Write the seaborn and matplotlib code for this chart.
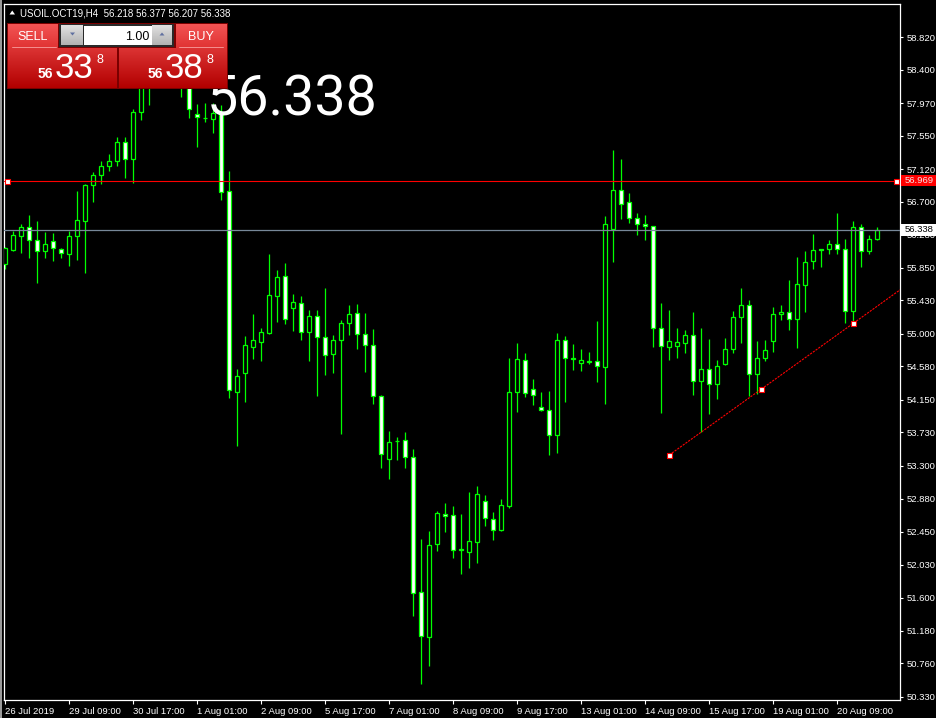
import numpy as np
import matplotlib
matplotlib.use("Agg")
import matplotlib.pyplot as plt
import matplotlib.transforms as mtransforms
from matplotlib.patches import Rectangle, Polygon
import seaborn as sns

sns.set_theme(style="dark", rc={
    "figure.facecolor": "black",
    "axes.facecolor": "black",
    "axes.edgecolor": "white",
    "savefig.facecolor": "black",
})
plt.rcParams["font.family"] = ["Liberation Sans", "DejaVu Sans"]

# ---------------------------------------------------------------------------
# USOIL.OCT19 H4 candles
# ---------------------------------------------------------------------------
opens = [55.894, 56.074, 56.262, 56.371, 56.203, 56.069, 56.190, 56.087, 56.023, 56.255,
         56.448, 56.911, 57.040, 57.156, 57.228, 57.465, 57.246, 57.851, 58.270, 58.520,
         58.380, 58.470, 58.300, 58.380, 57.825, 57.781, 57.761, 57.850, 56.834, 54.255,
         54.499, 54.834, 54.898, 55.014, 55.490, 55.740, 55.336, 55.393, 55.019, 55.225,
         54.955, 54.736, 54.916, 55.135, 55.264, 54.994, 54.852, 54.196, 53.385, 53.625,
         53.629, 53.410, 51.673, 51.094, 52.299, 52.677, 52.664, 52.220, 52.196, 52.324,
         52.844, 52.612, 52.479, 52.788, 54.255, 54.659, 54.286, 54.054, 54.015, 53.694,
         54.916, 54.690, 54.620, 54.640, 54.646, 54.569, 56.345, 56.847, 56.692, 56.487,
         56.409, 56.384, 55.071, 54.826, 54.839, 54.878, 54.981, 54.389, 54.543, 54.350,
         54.608, 54.800, 55.212, 55.367, 54.479, 54.685, 54.903, 55.251, 55.277, 55.187,
         55.624, 55.933, 56.087, 56.087, 56.152, 56.087, 55.290, 56.371, 56.062, 56.218]
highs = [56.113, 56.323, 56.413, 56.529, 56.452, 56.310, 56.297, 56.100, 56.323, 56.838,
         56.924, 57.079, 57.220, 57.310, 57.530, 57.530, 57.889, 58.420, 58.650, 58.760,
         58.620, 58.580, 58.520, 58.480, 57.958, 57.970, 57.966, 57.950, 57.095, 54.547,
         54.972, 55.255, 55.071, 56.027, 55.821, 55.911, 55.512, 55.487, 55.306, 55.306,
         55.590, 54.981, 55.174, 55.371, 55.384, 55.264, 55.058, 54.209, 53.745, 53.672,
         53.732, 53.513, 52.355, 52.462, 52.720, 52.823, 52.784, 52.681, 52.964, 53.041,
         52.922, 52.707, 52.874, 54.689, 54.882, 54.749, 54.418, 54.251, 54.264, 55.010,
         54.968, 54.869, 54.804, 54.766, 55.165, 56.512, 57.365, 57.250, 56.808, 56.551,
         56.525, 56.390, 55.393, 55.302, 55.071, 55.045, 55.277, 55.071, 54.929, 54.659,
         54.942, 55.290, 55.586, 55.431, 54.908, 54.920, 55.345, 55.367, 55.692, 55.985,
         56.062, 56.284, 56.090, 56.203, 56.555, 56.216, 56.448, 56.413, 56.268, 56.377]
lows = [55.830, 56.060, 56.044, 55.979, 55.658, 55.979, 55.941, 55.979, 55.876, 55.954,
        55.786, 56.700, 56.928, 57.099, 57.164, 57.009, 56.945, 57.752, 57.945, 58.200,
        58.200, 58.180, 58.051, 57.781, 57.408, 57.730, 57.588, 56.722, 54.177, 53.560,
        54.126, 54.676, 54.654, 55.000, 55.156, 55.130, 55.040, 54.924, 54.654, 54.203,
        54.474, 54.499, 53.714, 54.981, 54.808, 54.512, 54.093, 53.277, 53.135, 53.380,
        53.277, 51.372, 50.497, 50.729, 52.208, 52.453, 52.118, 51.912, 51.990, 52.054,
        52.530, 52.350, 52.466, 52.762, 54.000, 54.190, 54.088, 54.010, 53.436, 53.470,
        54.126, 54.538, 54.525, 54.611, 54.383, 54.100, 55.928, 56.474, 56.422, 56.268,
        56.203, 54.826, 53.977, 54.659, 54.685, 54.749, 54.209, 53.732, 53.964, 54.157,
        54.595, 54.749, 54.878, 54.196, 54.222, 54.650, 54.762, 55.182, 55.045, 54.813,
        55.277, 55.830, 55.856, 56.023, 56.023, 55.143, 55.161, 55.863, 56.023, 56.207]
closes = [56.100, 56.267, 56.371, 56.203, 56.069, 56.152, 56.100, 56.036, 56.255, 56.461,
          56.911, 57.040, 57.156, 57.220, 57.465, 57.246, 57.851, 58.270, 58.520, 58.380,
          58.470, 58.300, 58.380, 57.889, 57.786, 57.778, 57.846, 56.829, 54.273, 54.453,
          54.852, 54.916, 55.019, 55.496, 55.727, 55.194, 55.405, 55.019, 55.225, 54.955,
          54.723, 54.916, 55.135, 55.251, 54.994, 54.852, 54.196, 53.449, 53.603, 53.620,
          53.410, 51.660, 51.107, 52.278, 52.690, 52.651, 52.214, 52.230, 52.330, 52.934,
          52.625, 52.479, 52.793, 54.247, 54.672, 54.234, 54.209, 54.015, 53.694, 54.916,
          54.685, 54.680, 54.659, 54.650, 54.582, 56.409, 56.847, 56.667, 56.487, 56.409,
          56.384, 55.071, 54.839, 54.903, 54.890, 54.981, 54.389, 54.543, 54.350, 54.582,
          54.800, 55.212, 55.367, 54.479, 54.685, 54.788, 55.251, 55.277, 55.187, 55.637,
          55.920, 56.074, 56.080, 56.152, 56.087, 55.290, 56.371, 56.062, 56.216, 56.338]

date_labels = ["26 Jul 2019", "29 Jul 09:00", "30 Jul 17:00", "1 Aug 01:00", "2 Aug 09:00",
               "5 Aug 17:00", "7 Aug 01:00", "8 Aug 09:00", "9 Aug 17:00", "13 Aug 01:00",
               "14 Aug 09:00", "15 Aug 17:00", "19 Aug 01:00", "20 Aug 09:00"]
price_ticks = [58.82, 58.40, 57.97, 57.55, 57.12, 56.70, 56.28, 55.85, 55.43, 55.00, 54.58,
               54.15, 53.73, 53.30, 52.88, 52.45, 52.03, 51.60, 51.18, 50.76, 50.33]

hline_price = 56.969
bid_price = 56.338
trend_start = (83, 53.44)
trend_end = (106, 55.135)

GREEN = "#00ff00"
W, H = 937, 718

fig = plt.figure(figsize=(W / 100, H / 100), dpi=100)
ax = fig.add_axes([4 / W, 18 / H, 896 / W, 696 / H])
ax.set_facecolor("black")

x = np.arange(len(opens))
o = np.array(opens); c = np.array(closes)
bull = c > o
body_bottom = np.minimum(o, c)
body_height = np.maximum(np.abs(c - o), 0.003)
fills = np.where(bull, "black", "white")

ax.vlines(x, lows, highs, color=GREEN, lw=0.9, zorder=2)
ax.bar(x, body_height, bottom=body_bottom, width=0.5, color=fills,
       edgecolor=GREEN, linewidth=0.9, zorder=3)

xmin, xmax = -0.125, 111.84
ax.set_xlim(xmin, xmax)
ax.set_ylim(50.287, 59.245)

# horizontal line + bid line
ax.axhline(hline_price, color="#ff0000", lw=0.8, zorder=4)
ax.plot([0.25, 111.3], [hline_price, hline_price], ls="none", marker="s", ms=3.6,
        mfc="white", mec="#ff0000", mew=0.8, zorder=5)
ax.axhline(bid_price, color="#778899", lw=0.9, zorder=4)

# trend line (ray to the right)
slope = (trend_end[1] - trend_start[1]) / (trend_end[0] - trend_start[0])
tx = np.array([trend_start[0], xmax])
ty = trend_start[1] + slope * (tx - trend_start[0])
ax.plot(tx, ty, color="#ff0000", lw=0.8, ls=(0, (2, 1)), zorder=4)
mid_x = (trend_start[0] + trend_end[0]) / 2
ax.plot([trend_start[0], mid_x, trend_end[0]],
        [trend_start[1], trend_start[1] + slope * (mid_x - trend_start[0]), trend_end[1]],
        ls="none", marker="s", ms=3.6, mfc="white", mec="#ff0000", mew=0.8, zorder=5)

# axes styling
for sp in ax.spines.values():
    sp.set_color("white")
    sp.set_linewidth(0.9)
ax.grid(False)
ax.yaxis.tick_right()
ax.set_yticks(price_ticks)
ax.set_yticklabels([f"{p:.3f}" for p in price_ticks])
ax.set_xticks(np.arange(0, 8 * len(date_labels), 8))
ax.set_xticklabels(date_labels, ha="left")
ax.tick_params(axis="y", colors="white", labelcolor="white", length=2.5, width=0.8,
               labelsize=6.8, pad=2, left=False, right=True)
ax.tick_params(axis="x", colors="white", labelcolor="white", length=3, width=0.8,
               labelsize=6.8, pad=2, bottom=True)

# price boxes on the right axis
trans = mtransforms.blended_transform_factory(fig.transFigure, ax.transData)
fig.add_artist(Rectangle((901 / W, hline_price - 0.072), 36 / W, 0.144, transform=trans,
                         facecolor="#ff0000", edgecolor="none", zorder=10))
fig.text(905 / W, hline_price, f"{hline_price:.3f}", transform=trans, color="#f4e6e6",
         fontsize=6.8, va="center", ha="left", zorder=11)
fig.add_artist(Rectangle((901 / W, bid_price - 0.078), 36 / W, 0.156, transform=trans,
                         facecolor="white", edgecolor="none", zorder=10))
fig.text(905 / W, bid_price, f"{bid_price:.3f}", transform=trans, color="black",
         fontsize=6.8, va="center", ha="left", zorder=11)

# ---------------------------------------------------------------------------
# overlay: header, big price, one-click trading panel (pixel coordinates)
# ---------------------------------------------------------------------------
ov = fig.add_axes([0, 0, 1, 1], zorder=5)
ov.patch.set_alpha(0)
ov.axis("off")


def grad_box(x0, y0, x1, y1, top, bottom):
    g = np.linspace(0, 1, 40)[:, None, None]
    img = (1 - g) * np.array(top)[None, None, :] + g * np.array(bottom)[None, None, :]
    ov.imshow(img, extent=(x0, x1, y1, y0), origin="upper", aspect="auto",
              interpolation="bilinear", zorder=2)


ov.add_patch(Rectangle((0, 0), 2.5, H, facecolor="#9a9a9a", edgecolor="none"))

# big last price (partly hidden by the panel)
ov.text(207, 115.5, f"{bid_price:.3f}", color="white", fontsize=40, ha="left",
        va="baseline", zorder=1, family=["Roboto", "Liberation Sans"])

# header
ov.add_patch(Polygon([[9.5, 14.5], [15, 14.5], [12.25, 10.5]], closed=True,
                     facecolor="white", edgecolor="none"))
ov.text(20, 16.5, "USOIL.OCT19,H4  56.218 56.377 56.207 56.338", color="white",
        fontsize=7, ha="left", va="baseline")

# panel backing
ov.add_patch(Rectangle((7, 23), 221, 66, facecolor="#7a0000", edgecolor="none", zorder=1.5))
# SELL / BUY buttons
grad_box(8, 24, 57.5, 48, (0.95, 0.33, 0.33), (0.88, 0.20, 0.20))
grad_box(176, 24, 227, 48, (0.95, 0.33, 0.33), (0.88, 0.20, 0.20))
ov.plot([12, 56], [46.7, 46.7], color="#f59090", lw=0.7, zorder=3)
ov.plot([179, 223], [46.7, 46.7], color="#f59090", lw=0.7, zorder=3)
# lot box
ov.add_patch(Rectangle((59, 23.5), 115, 23.5, facecolor="#2a2a2a", edgecolor="none", zorder=2))
grad_box(61.5, 25.5, 83, 45, (0.88, 0.88, 0.88), (0.70, 0.70, 0.70))
ov.add_patch(Rectangle((84, 25.5), 68, 19.5, facecolor="white", edgecolor="none", zorder=3))
grad_box(152.5, 25.5, 172, 45, (0.88, 0.88, 0.88), (0.70, 0.70, 0.70))
ov.add_patch(Polygon([[70, 32.5], [75, 32.5], [72.5, 35.5]], facecolor="#6070a0",
                     edgecolor="none", zorder=4))
ov.add_patch(Polygon([[159.5, 35.5], [164.5, 35.5], [162, 32.5]], facecolor="#6070a0",
                     edgecolor="none", zorder=4))
# price boxes
grad_box(8, 48.5, 116.5, 88, (0.86, 0.20, 0.20), (0.70, 0.0, 0.0))
grad_box(119, 48.5, 227, 88, (0.86, 0.20, 0.20), (0.70, 0.0, 0.0))

ov.text(33, 40, "SELL", color="white", fontsize=9, ha="center", va="baseline", zorder=5)
ov.text(201, 40, "BUY", color="white", fontsize=9, ha="center", va="baseline", zorder=5)
ov.text(149, 40, "1.00", color="black", fontsize=9, ha="right", va="baseline", zorder=5)

for cx, big in [(45.5, "33"), (155.5, "38")]:
    ov.text(cx, 78, "56", color="white", fontsize=10, fontweight="bold", ha="center",
            va="baseline", zorder=5)
    ov.text(cx + 28.5, 78, big, color="white", fontsize=25, ha="center", va="baseline",
            zorder=5)
    ov.text(cx + 54, 63, "8", color="white", fontsize=9, ha="center", va="baseline",
            zorder=5)

ov.set_xlim(0, W)
ov.set_ylim(H, 0)

fig.savefig("out.png", dpi=100, facecolor="black")
